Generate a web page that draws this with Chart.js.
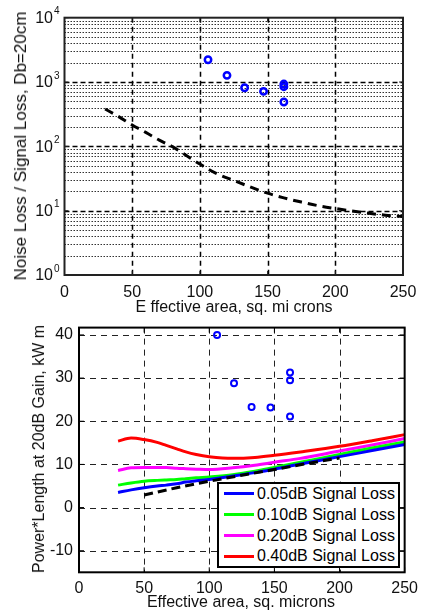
<!DOCTYPE html>
<html>
<head>
<meta charset="utf-8">
<script src="https://cdn.jsdelivr.net/npm/chart.js@4"></script>
<style>
body{margin:0;background:#fff;font-family:"Liberation Sans",Arial,sans-serif;}
#wrap{position:relative;width:425px;height:613px;overflow:hidden}
canvas{position:absolute;left:0}
.lbl{position:absolute;white-space:nowrap;font-size:16px;color:#111;transform:translate(-50%,-50%)}
.rot{transform:translate(-50%,-50%) rotate(-90deg)}
#legend{position:absolute;left:217px;top:482px;width:179px;height:82px;border:2px solid #000;background:#fff}
.row{position:absolute;left:5px;height:20px;font-size:16px;line-height:20px;white-space:nowrap}
.row span{display:inline-block;width:30px;height:3px;vertical-align:middle;margin-right:3px;position:relative;top:-1px}
</style>
</head>
<body>
<div id="wrap">
  <canvas id="topChart" width="425" height="312" style="top:0"></canvas>
  <canvas id="bottomChart" width="425" height="301" style="top:312px"></canvas>
  <div class="lbl rot" style="left:21px;top:146px;font-size:17px">Noise Loss / Signal Loss, Db=20cm</div>
  <div class="lbl" style="left:234px;top:307px">E ffective area, sq. mi crons</div>
  <div class="lbl rot" style="left:39px;top:449px">Power*Length at 20dB Gain, kW m</div>
  <div class="lbl" style="left:241px;top:602px">Effective area, sq. microns</div>
  <div id="legend"></div>
</div>
<script>
// top chart: measured fibers + noise/signal loss curve
let topPointsX = [106, 120, 133, 147, 162, 162, 162]
let topPointsY = [2220, 1270, 815, 716, 931, 846, 489]
let curveX = [30, 40, 50, 60, 70, 80, 90, 100, 112, 125, 137, 150, 162, 175, 187, 200, 212, 225, 237, 250]
let curveY = [380, 290, 215, 165, 125, 98, 72, 53, 38, 29.5, 23.5, 18.7, 15.8, 13.6, 12, 10.8, 9.9, 9.1, 8.5, 8.1]
let xTicks = [0, 50, 100, 150, 200, 250]
let decades = [1, 10, 100, 1000, 10000]

// bottom chart: power*length
let bottomPointsX = [106, 119, 132.5, 147, 162, 162, 162]
let bottomPointsY = [40, 28.8, 23.3, 23.2, 31.3, 29.5, 21.1]
let lossX = [30, 40, 50, 60, 67, 75, 82, 90, 100, 118, 135, 150, 170, 200, 225, 250]
let loss005 = [3.5, 4.1, 4.6, 5.0, 5.2, 5.5, 5.9, 6.2, 6.5, 7.3, 8.1, 8.9, 10.1, 11.8, 13.2, 14.6]
let loss010 = [5.2, 5.7, 6.1, 6.3, 6.4, 6.5, 6.7, 6.9, 7.1, 7.6, 8.4, 9.3, 10.5, 12.3, 13.8, 15.2]
let loss020 = [8.6, 9.2, 9.3, 9.3, 9.3, 9.1, 9.0, 8.9, 8.8, 9.2, 9.8, 10.5, 11.4, 13.1, 14.5, 16.0]
let loss040 = [15.4, 16.1, 15.75, 15.1, 14.4, 13.6, 12.9, 12.3, 11.8, 11.4, 11.6, 12.1, 12.9, 14.2, 15.5, 16.9]
let refX = [50, 75, 100, 125, 150, 175, 200]
let refY = [2.9, 4.6, 6.1, 7.5, 8.8, 10.2, 11.5]
let yTicks = [-10, 0, 10, 20, 30, 40]
let seriesNames = ["0.05dB Signal Loss", "0.10dB Signal Loss", "0.20dB Signal Loss", "0.40dB Signal Loss"]
let seriesColors = ["#0000ff", "#00ff00", "#ff00ff", "#ff0000"]

Chart.defaults.font.family = '"Liberation Sans", Arial, sans-serif'
Chart.defaults.color = '#111'

const pairs = (xs, ys) => xs.map((x, i) => ({x: x, y: ys[i]}))

function line(ctx, x1, y1, x2, y2){
    ctx.beginPath(); ctx.moveTo(x1, y1); ctx.lineTo(x2, y2); ctx.stroke()
}

const topGrid = {
    id: 'topGrid',
    beforeDatasetsDraw(chart){
        let {ctx, chartArea: a, scales: {x, y}} = chart
        ctx.save()
        // minor log lines
        ctx.strokeStyle = '#333'; ctx.lineWidth = 1; ctx.setLineDash([1.5, 1.5])
        decades.slice(0, 4).forEach(d => {
            for(let m = 2; m <= 9; m++){
                let py = Math.round(y.getPixelForValue(m*d)) + 0.5
                line(ctx, a.left, py, a.right, py)
            }
        })
        ctx.strokeStyle = '#000'; ctx.lineWidth = 1.5; ctx.setLineDash([5, 3])
        decades.slice(1, 4).forEach(d => {
            let py = Math.round(y.getPixelForValue(d)) + 0.5
            line(ctx, a.left, py, a.right, py)
        })
        ctx.setLineDash([5, 4])
        xTicks.slice(1, 5).forEach(v => {
            let px = Math.round(x.getPixelForValue(v)) + 0.5
            line(ctx, px, a.top, px, a.bottom)
        })
        ctx.restore()
    },
    afterDraw(chart){
        let {ctx, chartArea: a, scales: {x, y}} = chart
        ctx.save()
        ctx.strokeStyle = '#222'; ctx.lineWidth = 2
        ctx.strokeRect(a.left, a.top, a.right - a.left, a.bottom - a.top)
        ctx.lineWidth = 1
        xTicks.forEach(v => {
            let px = x.getPixelForValue(v)
            line(ctx, px, a.bottom, px, a.bottom - 4)
            line(ctx, px, a.top, px, a.top + 4)
        })
        decades.forEach(d => {
            let py = y.getPixelForValue(d)
            line(ctx, a.left, py, a.left + 4, py)
            line(ctx, a.right, py, a.right - 4, py)
            ctx.fillStyle = '#111'
            ctx.font = '16px "Liberation Sans", Arial'
            ctx.textAlign = 'right'; ctx.textBaseline = 'middle'
            ctx.fillText('10', 53, py + 1)
            ctx.font = '10px "Liberation Sans", Arial'
            ctx.textAlign = 'left'
            ctx.fillText(String(Math.round(Math.log10(d))), 54, py - 6)
        })
        ctx.restore()
    }
}

const bottomGrid = {
    id: 'bottomGrid',
    beforeDatasetsDraw(chart){
        let {ctx, chartArea: a, scales: {x, y}} = chart
        ctx.save()
        ctx.strokeStyle = '#222'; ctx.lineWidth = 1; ctx.setLineDash([6, 5])
        xTicks.slice(1, 5).forEach(v => {
            let px = Math.round(x.getPixelForValue(v)) + 0.5
            line(ctx, px, a.top, px, a.bottom)
        })
        yTicks.forEach(v => {
            let py = Math.round(y.getPixelForValue(v)) + 0.5
            line(ctx, a.left, py, a.right, py)
        })
        ctx.restore()
    },
    afterDraw(chart){
        let {ctx, chartArea: a, scales: {x, y}} = chart
        ctx.save()
        ctx.strokeStyle = '#000'; ctx.lineWidth = 2
        ctx.strokeRect(a.left, a.top, a.right - a.left, a.bottom - a.top)
        ctx.lineWidth = 1
        xTicks.forEach(v => {
            let px = x.getPixelForValue(v)
            line(ctx, px, a.bottom, px, a.bottom - 5)
            line(ctx, px, a.top, px, a.top + 5)
        })
        yTicks.forEach(v => {
            let py = y.getPixelForValue(v)
            line(ctx, a.left, py, a.left + 5, py)
            line(ctx, a.right, py, a.right - 5, py)
        })
        ctx.restore()
    }
}

new Chart(document.getElementById("topChart"), {
    type: "scatter",
    data: {
        datasets: [{
            data: pairs(curveX, curveY),
            showLine: true,
            borderColor: "#000",
            borderWidth: 3,
            borderDash: [9, 6],
            pointRadius: 0,
            cubicInterpolationMode: "monotone"
        }, {
            data: pairs(topPointsX, topPointsY),
            pointRadius: 3.2,
            pointBorderWidth: 2.5,
            pointBorderColor: "#0000ff",
            pointBackgroundColor: "rgba(0,0,0,0)"
        }]
    },
    options: {
        responsive: false, animation: false, devicePixelRatio: 1,
        layout: {padding: {left: 0, right: 22, top: 17.7, bottom: 0}},
        plugins: {legend: {display: false}, tooltip: {enabled: false}},
        scales: {
            x: {
                type: "linear", min: 0, max: 250,
                afterBuildTicks: s => { s.ticks = xTicks.map(v => ({value: v})) },
                afterFit: s => { s.height = 37 },
                grid: {display: false, drawTicks: false}, border: {display: false},
                ticks: {padding: 8, font: {size: 16}, color: "#111"}
            },
            y: {
                type: "logarithmic", min: 1, max: 10000,
                afterFit: s => { s.width = 64.5 },
                grid: {display: false, drawTicks: false}, border: {display: false},
                ticks: {display: false}
            }
        }
    },
    plugins: [topGrid]
})

let lossSets = [loss005, loss010, loss020, loss040].map((vals, i) => ({
    data: pairs(lossX, vals),
    showLine: true,
    borderColor: seriesColors[i],
    borderWidth: 3,
    pointRadius: 0,
    cubicInterpolationMode: "monotone"
}))

new Chart(document.getElementById("bottomChart"), {
    type: "scatter",
    data: {
        datasets: [{
            data: pairs(refX, refY),
            showLine: true,
            borderColor: "#000",
            borderWidth: 3,
            borderDash: [9, 5],
            pointRadius: 0
        }].concat(lossSets).concat([{
            data: pairs(bottomPointsX, bottomPointsY),
            pointRadius: 3,
            pointBorderWidth: 2,
            pointBorderColor: "#0000ff",
            pointBackgroundColor: "rgba(0,0,0,0)"
        }])
    },
    options: {
        responsive: false, animation: false, devicePixelRatio: 1,
        layout: {padding: {left: 0, right: 19, top: 10.7, bottom: 0}},
        plugins: {legend: {display: false}, tooltip: {enabled: false}},
        scales: {
            x: {
                type: "linear", min: 0, max: 250,
                afterBuildTicks: s => { s.ticks = xTicks.map(v => ({value: v})) },
                afterFit: s => { s.height = 40.7 },
                grid: {display: false, drawTicks: false}, border: {display: false},
                ticks: {padding: 7, font: {size: 16}, color: "#111"}
            },
            y: {
                type: "linear", min: -15, max: 41.7,
                afterBuildTicks: s => { s.ticks = yTicks.map(v => ({value: v})) },
                afterFit: s => { s.width = 79 },
                grid: {display: false, drawTicks: false}, border: {display: false},
                ticks: {padding: 6, font: {size: 16}, color: "#111"}
            }
        }
    },
    plugins: [bottomGrid]
})

let legend = document.getElementById("legend")
seriesNames.forEach((name, i) => {
    let row = document.createElement("div")
    row.className = "row"
    row.style.top = (i * 20.8) + "px"
    row.innerHTML = `<span style="background:${seriesColors[i]}"></span>${name}`
    legend.append(row)
})
</script>
</body>
</html>
